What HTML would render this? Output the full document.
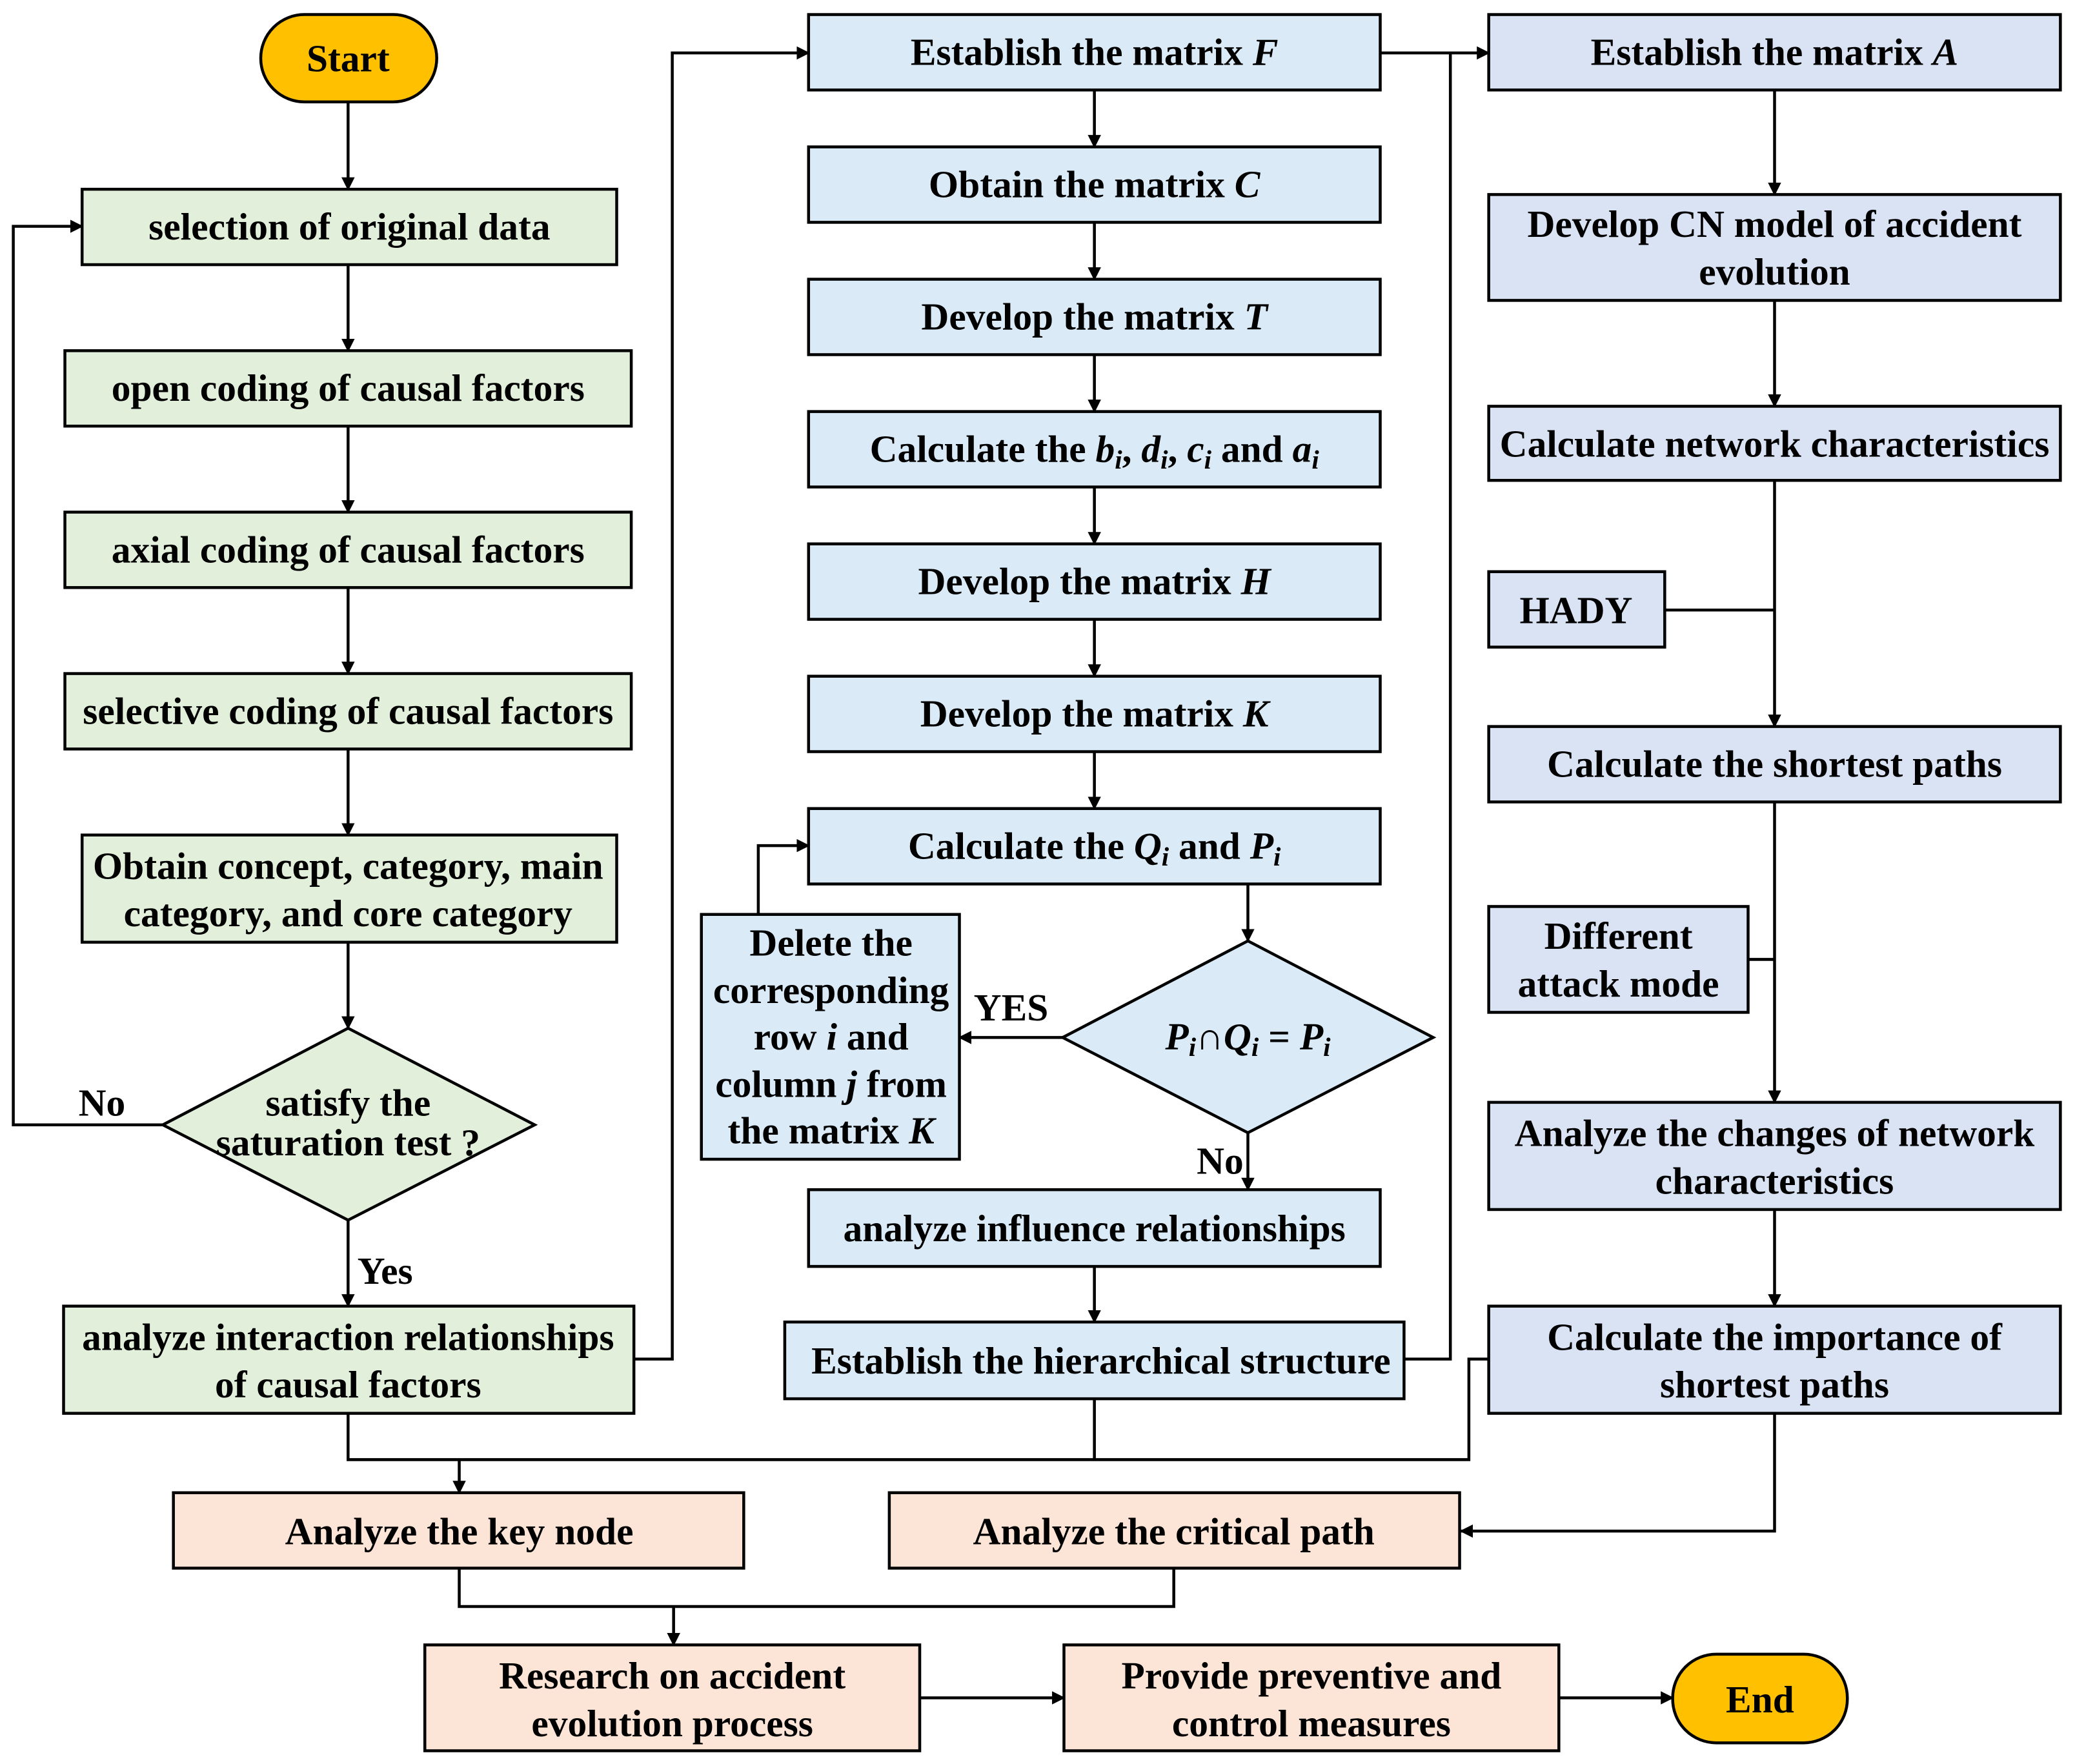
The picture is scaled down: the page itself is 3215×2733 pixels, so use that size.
<!DOCTYPE html>
<html><head><meta charset="utf-8"><style>html,body{margin:0;padding:0;background:#fff}svg{display:block}</style></head><body>
<svg width="3215" height="2733" viewBox="0 0 1568 1333" xmlns="http://www.w3.org/2000/svg">
<defs><marker id="a" markerWidth="10" markerHeight="10" refX="9" refY="5" orient="auto" markerUnits="userSpaceOnUse"><path d="M0,0 L10,5 L0,10 z" fill="#000"/></marker></defs>
<g stroke="#000" stroke-width="2.2" fill="none">
<path d="M263,77 V143" marker-end="url(#a)"/>
<path d="M263,200 V265" marker-end="url(#a)"/>
<path d="M263,322 V387" marker-end="url(#a)"/>
<path d="M263,444 V509" marker-end="url(#a)"/>
<path d="M263,566 V631" marker-end="url(#a)"/>
<path d="M263,712 V777" marker-end="url(#a)"/>
<path d="M123,850 H10 V171 H62" marker-end="url(#a)"/>
<path d="M263,922 V987" marker-end="url(#a)"/>
<path d="M479,1027 H508 V40 H611" marker-end="url(#a)"/>
<path d="M827,68 V111" marker-end="url(#a)"/>
<path d="M827,168 V211" marker-end="url(#a)"/>
<path d="M827,268 V311" marker-end="url(#a)"/>
<path d="M827,368 V411" marker-end="url(#a)"/>
<path d="M827,468 V511" marker-end="url(#a)"/>
<path d="M827,568 V611" marker-end="url(#a)"/>
<path d="M943,668 V711" marker-end="url(#a)"/>
<path d="M803,784 H725" marker-end="url(#a)"/>
<path d="M573,691 V639 H611" marker-end="url(#a)"/>
<path d="M943,856 V899" marker-end="url(#a)"/>
<path d="M827,957 V999" marker-end="url(#a)"/>
<path d="M1061,1027 H1096 V40"/>
<path d="M1043,40 H1125" marker-end="url(#a)"/>
<path d="M1341,68 V147" marker-end="url(#a)"/>
<path d="M1341,227 V307" marker-end="url(#a)"/>
<path d="M1341,363 V549" marker-end="url(#a)"/>
<path d="M1258,461 H1341"/>
<path d="M1341,606 V833" marker-end="url(#a)"/>
<path d="M1321,725 H1341"/>
<path d="M1341,914 V987" marker-end="url(#a)"/>
<path d="M1341,1068 V1157 H1104" marker-end="url(#a)"/>
<path d="M263,1068 V1103 H1110 V1027 H1125"/>
<path d="M827,1057 V1103"/>
<path d="M347,1103 V1128" marker-end="url(#a)"/>
<path d="M347,1185 V1214 H887 V1185"/>
<path d="M509,1214 V1243" marker-end="url(#a)"/>
<path d="M695,1283 H804" marker-end="url(#a)"/>
<path d="M1178,1283 H1264" marker-end="url(#a)"/>
</g>
<g stroke="#000" stroke-width="2.2">
<rect x="197" y="11" width="133" height="66" rx="33" fill="#FFC000"/>
<rect x="1264" y="1250" width="132" height="67" rx="33" fill="#FFC000"/>
<g fill="#E2EFDA">
<rect x="62" y="143" width="404" height="57"/>
<rect x="49" y="265" width="428" height="57"/>
<rect x="49" y="387" width="428" height="57"/>
<rect x="49" y="509" width="428" height="57"/>
<rect x="62" y="631" width="404" height="81"/>
<polygon points="123,850 263,777 404,850 263,922"/>
<rect x="48" y="987" width="431" height="81"/>
</g>
<g fill="#DAEBF7">
<rect x="611" y="11" width="432" height="57"/>
<rect x="611" y="111" width="432" height="57"/>
<rect x="611" y="211" width="432" height="57"/>
<rect x="611" y="311" width="432" height="57"/>
<rect x="611" y="411" width="432" height="57"/>
<rect x="611" y="511" width="432" height="57"/>
<rect x="611" y="611" width="432" height="57"/>
<polygon points="803,784 943,711 1083,784 943,856"/>
<rect x="530" y="691" width="195" height="185"/>
<rect x="611" y="899" width="432" height="58"/>
<rect x="593" y="999" width="468" height="58"/>
</g>
<g fill="#DAE3F3">
<rect x="1125" y="11" width="432" height="57"/>
<rect x="1125" y="147" width="432" height="80"/>
<rect x="1125" y="307" width="432" height="56"/>
<rect x="1125" y="432" width="133" height="57"/>
<rect x="1125" y="549" width="432" height="57"/>
<rect x="1125" y="685" width="196" height="80"/>
<rect x="1125" y="833" width="432" height="81"/>
<rect x="1125" y="987" width="432" height="81"/>
</g>
<g fill="#FCE4D6">
<rect x="131" y="1128" width="431" height="57"/>
<rect x="672" y="1128" width="431" height="57"/>
<rect x="321" y="1243" width="374" height="80"/>
<rect x="804" y="1243" width="374" height="80"/>
</g>
</g>
<g font-family="Liberation Serif, serif" font-weight="bold" font-size="29" text-anchor="middle" fill="#000">
<text x="263" y="54">Start</text>
<text x="1330" y="1294">End</text>
<text x="264" y="181">selection of original data</text>
<text x="263" y="303">open coding of causal factors</text>
<text x="263" y="425">axial coding of causal factors</text>
<text x="263" y="547">selective coding of causal factors</text>
<text x="263" y="664">Obtain concept, category, main</text>
<text x="263" y="700">category, and core category</text>
<text x="263" y="843">satisfy the</text>
<text x="263" y="873">saturation test ?</text>
<text x="77" y="843">No</text>
<text x="291" y="970">Yes</text>
<text x="263" y="1020">analyze interaction relationships</text>
<text x="263" y="1056">of causal factors</text>
<text x="827" y="49">Establish the matrix <tspan font-style="italic">F</tspan></text>
<text x="827" y="149">Obtain the matrix <tspan font-style="italic">C</tspan></text>
<text x="827" y="249">Develop the matrix <tspan font-style="italic">T</tspan></text>
<text x="827" y="349">Calculate the <tspan font-style="italic">b<tspan font-size="20" dy="5">i</tspan></tspan><tspan dy="-5">, </tspan><tspan font-style="italic">d<tspan font-size="20" dy="5">i</tspan></tspan><tspan dy="-5">, </tspan><tspan font-style="italic">c<tspan font-size="20" dy="5">i</tspan></tspan><tspan dy="-5"> and </tspan><tspan font-style="italic">a<tspan font-size="20" dy="5">i</tspan></tspan></text>
<text x="827" y="449">Develop the matrix <tspan font-style="italic">H</tspan></text>
<text x="827" y="549">Develop the matrix <tspan font-style="italic">K</tspan></text>
<text x="827" y="649">Calculate the <tspan font-style="italic">Q<tspan font-size="20" dy="5">i</tspan></tspan><tspan dy="-5"> and </tspan><tspan font-style="italic">P<tspan font-size="20" dy="5">i</tspan></tspan></text>
<text x="943" y="793" font-style="italic">P<tspan font-size="20" dy="5">i</tspan><tspan dy="-5" font-style="normal">∩</tspan>Q<tspan font-size="20" dy="5">i</tspan><tspan dy="-5" font-style="normal"> = </tspan>P<tspan font-size="20" dy="5">i</tspan></text>
<text x="764" y="771">YES</text>
<text x="922" y="887">No</text>
<text x="628" y="722">Delete the</text>
<text x="628" y="758">corresponding</text>
<text x="628" y="793">row <tspan font-style="italic">i</tspan> and</text>
<text x="628" y="829">column <tspan font-style="italic">j</tspan> from</text>
<text x="628" y="864">the matrix <tspan font-style="italic">K</tspan></text>
<text x="827" y="938">analyze influence relationships</text>
<text x="832" y="1038">Establish the hierarchical structure</text>
<text x="1341" y="49">Establish the matrix <tspan font-style="italic">A</tspan></text>
<text x="1341" y="179">Develop CN model of accident</text>
<text x="1341" y="215">evolution</text>
<text x="1341" y="345">Calculate network characteristics</text>
<text x="1191" y="471">HADY</text>
<text x="1341" y="587">Calculate the shortest paths</text>
<text x="1223" y="717">Different</text>
<text x="1223" y="753">attack mode</text>
<text x="1341" y="866">Analyze the changes of network</text>
<text x="1341" y="902">characteristics</text>
<text x="1341" y="1020">Calculate the importance of</text>
<text x="1341" y="1056">shortest paths</text>
<text x="347" y="1167">Analyze the key node</text>
<text x="887" y="1167">Analyze  the critical path</text>
<text x="508" y="1276">Research on accident</text>
<text x="508" y="1312">evolution process</text>
<text x="991" y="1276">Provide preventive and</text>
<text x="991" y="1312">control measures</text>
</g>
</svg>
</body></html>
